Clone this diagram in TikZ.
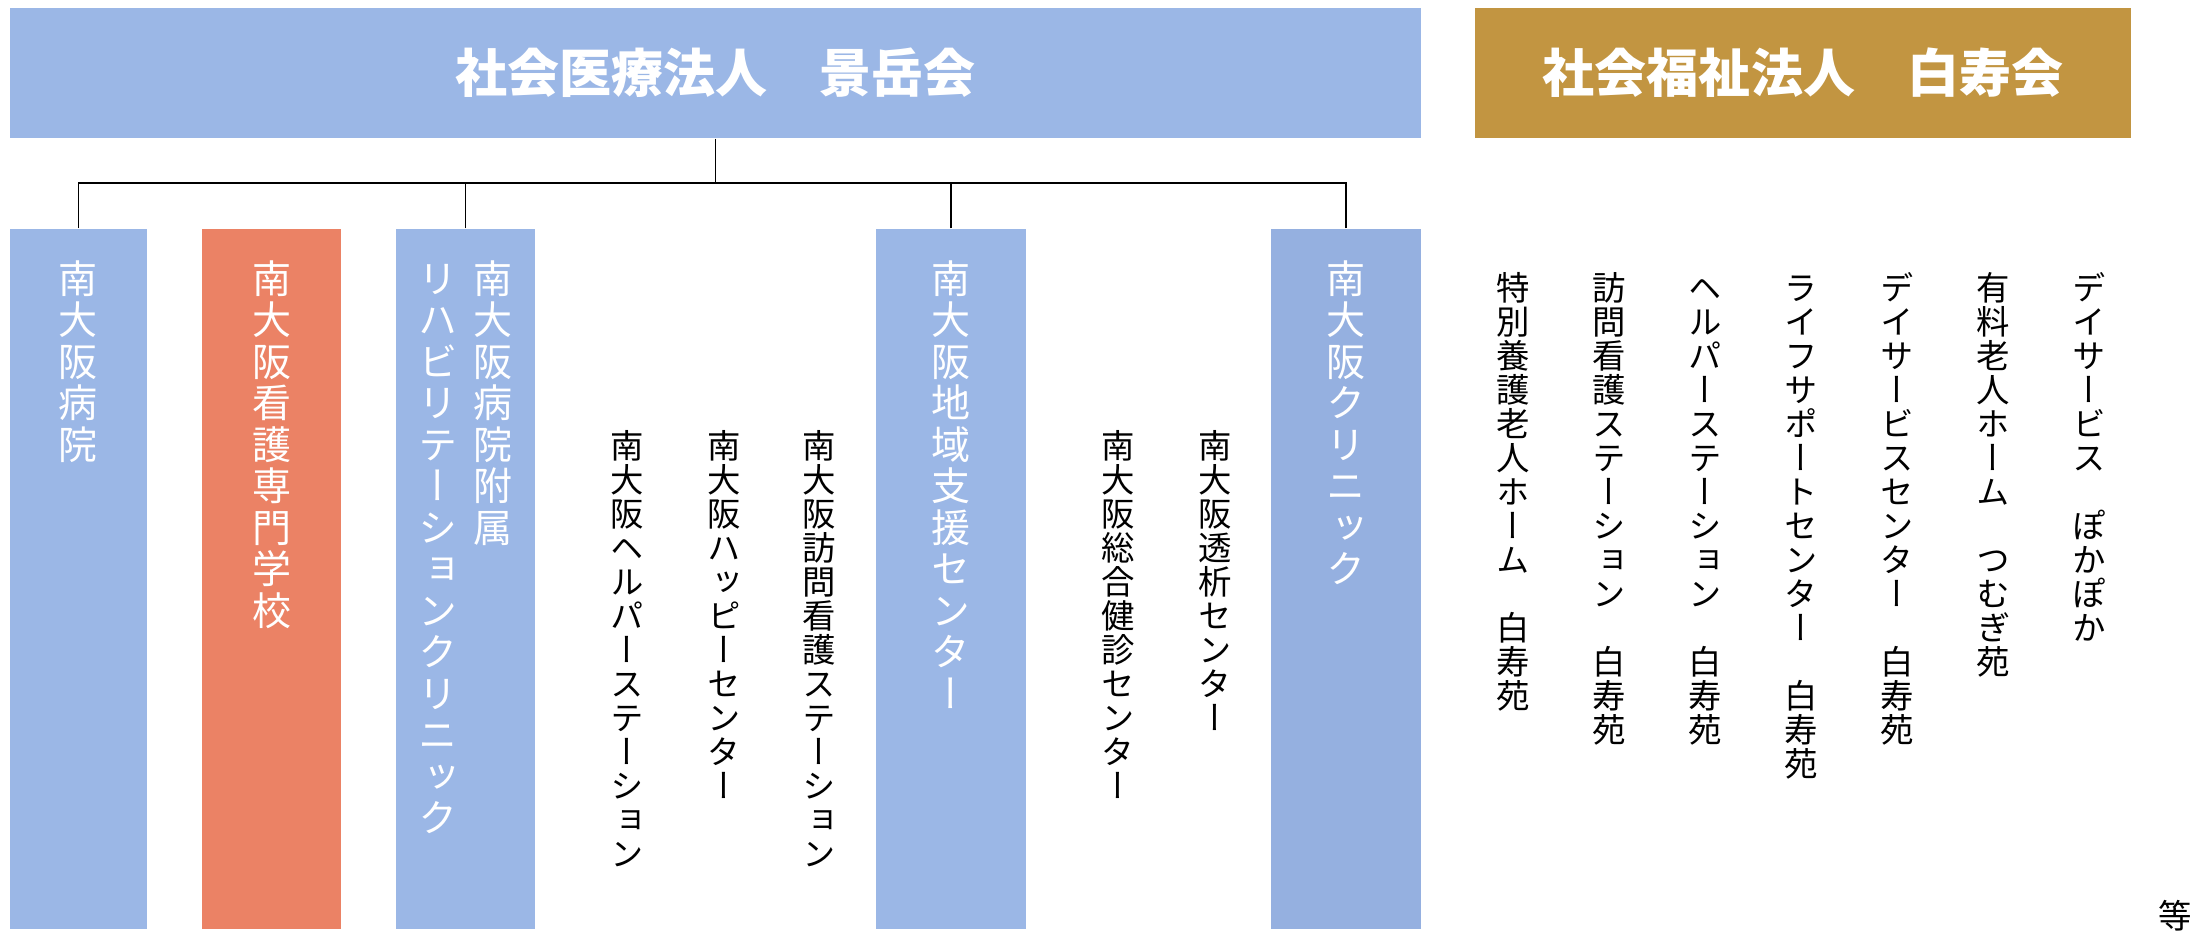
\documentclass[tikz,border=0pt]{standalone}
\usepackage{fontspec}
\usepackage{tikz}
\setmainfont{Noto Sans CJK JP}
\newfontfamily\jpv[RawFeature=+vert]{Noto Sans CJK JP}
\definecolor{keigaku}{HTML}{9BB7E6}
\definecolor{clinicblue}{HTML}{95B0E0}
\definecolor{school}{HTML}{EB8265}
\definecolor{hakuju}{HTML}{C29541}

\newlength\tatepitch
\def\tatestep#1{\ifx\relax#1\else\hbox to\tatepitch{\hss\vrule width0pt height.88em depth.12em#1\hss}\expandafter\tatestep\fi}
\newcommand\tate[1]{\vtop{\baselineskip=\tatepitch\lineskiplimit=-\maxdimen\lineskip=0pt\tatestep#1\relax}}

\begin{document}
\begin{tikzpicture}[
  head/.style={rectangle, inner sep=0pt, minimum height=1.3cm, text=white,
               font=\bfseries\fontsize{14.8}{16}\selectfont},
  unit/.style={rectangle, inner sep=0pt, minimum width=1.37cm, minimum height=7cm},
  wlabel/.style={anchor=north, inner sep=0pt, text=white,
                 font={\jpv\fontsize{11.1}{13}\selectfont\setlength\tatepitch{0.415cm}}},
  blabel/.style={anchor=north, inner sep=0pt,
                 font={\jpv\fontsize{9.5}{11}\selectfont\setlength\tatepitch{0.34cm}}},
  link/.style={line width=0.55pt},
]
\useasboundingbox (0,0) rectangle (22,-9.4);

\node[head, fill=keigaku, minimum width=14.11cm] (keigaku) at (7.155, -0.73) {社会医療法人　景岳会};
\node[head, fill=hakuju, minimum width=6.56cm] (hakuju) at (18.03, -0.73) {社会福祉法人　白寿会};

\node[unit, fill=keigaku] (hosp) at (0.785, -5.79) {};
\node[unit, fill=school, minimum width=1.39cm] (school) at (2.715, -5.79) {};
\node[unit, fill=keigaku, minimum width=1.39cm] (reha) at (4.655, -5.79) {};
\node[unit, fill=keigaku, minimum width=1.5cm] (support) at (9.51, -5.79) {};
\node[unit, fill=clinicblue, minimum width=1.5cm] (clinic) at (13.46, -5.79) {};

\node[wlabel] (hosp-t) at (0.785, -2.58) {\tate{南大阪病院}};
\node[wlabel] (school-t) at (2.715, -2.58) {\tate{南大阪看護専門学校}};
\node[wlabel] (reha-t) at (4.655, -2.58) {\tate{リハビリテーションクリニック}\kern0.14cm\tate{南大阪病院附属}};
\node[wlabel] (support-t) at (9.51, -2.58) {\tate{南大阪地域支援センター}};
\node[wlabel] (clinic-t) at (13.46, -2.58) {\tate{南大阪クリニック}};

\node[blabel] (helper) at (6.27, -4.28) {\tate{南大阪ヘルパーステーション}};
\node[blabel] (happy) at (7.24, -4.28) {\tate{南大阪ハッピーセンター}};
\node[blabel] (visit) at (8.19, -4.28) {\tate{南大阪訪問看護ステーション}};
\node[blabel] (kenshin) at (11.18, -4.28) {\tate{南大阪総合健診センター}};
\node[blabel] (toseki) at (12.15, -4.28) {\tate{南大阪透析センター}};

\node[blabel] (tokuyo) at (15.13, -2.70) {\tate{特別養護老人ホーム　白寿苑}};
\node[blabel] (houkan) at (16.09, -2.70) {\tate{訪問看護ステーション　白寿苑}};
\node[blabel] (hhelper) at (17.05, -2.70) {\tate{ヘルパーステーション　白寿苑}};
\node[blabel] (life) at (18.01, -2.70) {\tate{ライフサポートセンター　白寿苑}};
\node[blabel] (dayc) at (18.97, -2.70) {\tate{デイサービスセンター　白寿苑}};
\node[blabel] (tsumugi) at (19.93, -2.70) {\tate{有料老人ホーム　つむぎ苑}};
\node[blabel] (pokapoka) at (20.89, -2.70) {\tate{デイサービス　ぽかぽか}};

\node[inner sep=0pt, font=\fontsize{9.5}{11}\selectfont] (etc) at (21.75, -9.16) {等};

\coordinate (bus) at (7.155, -1.83);
\draw[link] (keigaku.south) -- (bus);
\draw[link] (hosp.north) |- (bus);
\draw[link] (reha.north) |- (bus);
\draw[link] (support.north) |- (bus);
\draw[link] (clinic.north) |- (bus);

\end{tikzpicture}
\end{document}
